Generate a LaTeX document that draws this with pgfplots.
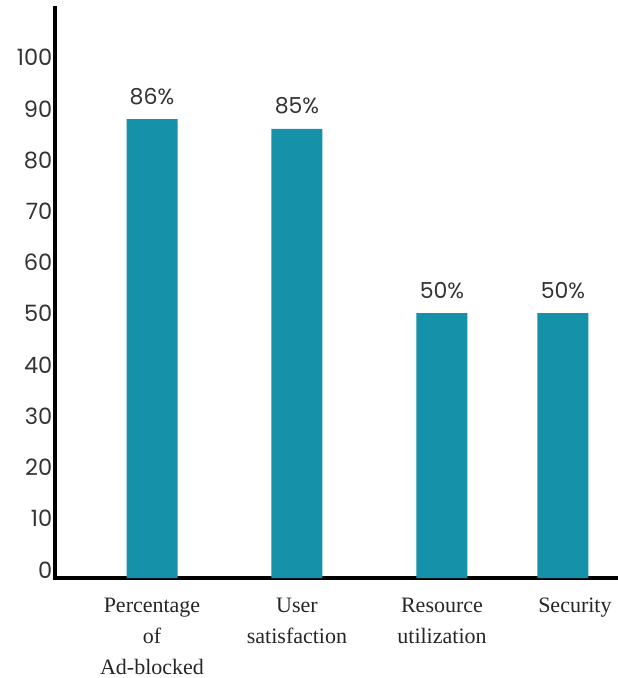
\documentclass[border=0pt]{standalone}
\usepackage{pgfplots}
\pgfplotsset{compat=1.18}
\usepackage{fontspec}
\setmainfont{Liberation Serif}
\newfontfamily\numfont{Poppins}
\definecolor{barteal}{RGB}{21,145,170}
\begin{document}
\begin{tikzpicture}
\begin{axis}[
  name=ax,
  scale only axis,
  width=562pt, height=570pt,
  xmin=-0.669, xmax=3.207,
  ymin=0, ymax=111.3,
  axis x line=bottom, axis y line=left,
  axis line style={-, line width=3.5pt, line cap=rect},
  major tick length=0pt,
  ytick={0,10,...,100},
  /pgf/number format/assume math mode=true,
  yticklabel style={font=\numfont\fontsize{22.5}{26}\selectfont, anchor=base east, inner sep=0pt, xshift=-2.5pt, text=black!80},
  xtick={0,1,2,2.834},
  xticklabels={{Percentage\\of\\Ad-blocked},{User\\satisfaction},{Resource\\utilization},{\hspace*{24pt}Security}},
  xticklabel style={align=center, font=\fontsize{22}{31}\selectfont, anchor=north, inner sep=0pt, yshift=-20pt, text=black!85},
  ybar, bar width=51pt,
  point meta=explicit symbolic,
  nodes near coords,
  nodes near coords style={font=\numfont\fontsize{22}{26}\selectfont, anchor=base, inner sep=0pt, yshift=15pt, text=black!80},
  clip=false,
]
\addplot[fill=barteal, draw=none] coordinates {
  (0,89.6) [86\%]
  (1,87.7) [85\%]
  (2,51.7) [50\%]
  (2.834,51.7) [50\%]
};
\end{axis}
\pgfresetboundingbox
\path[use as bounding box] ([xshift=-55pt,yshift=-100pt]ax.south west) rectangle ([yshift=8pt]ax.north east);
\end{tikzpicture}
\end{document}
